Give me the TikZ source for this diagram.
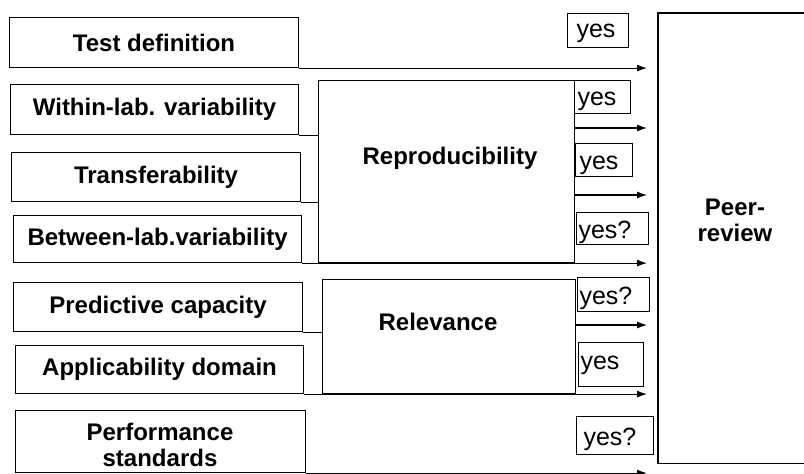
\documentclass[tikz,border=0pt]{standalone}
\usepackage{fontspec}
\setmainfont{Liberation Sans}
\usetikzlibrary{arrows.meta,calc}
\begin{document}
\begin{tikzpicture}[x=1pt,y=-1pt,
 line width=1.1pt,
 boxb/.style={draw, inner sep=0pt, anchor=north west, font=\bfseries\fontsize{24}{26}\selectfont, align=center},
 yesb/.style={draw, inner xsep=0pt, inner ysep=0pt, anchor=north west, font=\fontsize{25}{27}\selectfont, text depth=0pt},
 arr/.style={-{Latex[length=10pt,width=7pt]}},
 lbl/.style={font=\bfseries\fontsize{24}{26}\selectfont, align=center}
]
\useasboundingbox (0,0) rectangle (804,474);
\fill[white] (0,0) rectangle (804,474);

% left boxes
\node[boxb, minimum width=289pt, minimum height=50pt] (td) at (9,17) {Test definition};
\node[boxb, minimum width=288pt, minimum height=50pt] (wl) at (10,84) {Within-lab. variability};
\node[boxb, minimum width=289pt, minimum height=49pt] (tr) at (11,152) {Transferability};
\node[boxb, minimum width=288pt, minimum height=47pt] (bl) at (13,215) {Between-lab.variability};
\node[boxb, minimum width=289pt, minimum height=49pt] (pc) at (13,282) {Predictive capacity};
\node[boxb, minimum width=288pt, minimum height=48pt] (ad) at (15,345) {Applicability domain};
\node[boxb, minimum width=290pt, minimum height=62pt] (ps) at (15,410) {};
\node[lbl] (pst) at (160,445) {Performance\\standards};

% group boxes
\node[draw, inner sep=0pt, anchor=north west, minimum width=256pt, minimum height=182pt] (rep) at (318,80) {};
\node[lbl] (rept) at (450,158) {Reproducibility};
\node[draw, inner sep=0pt, anchor=north west, minimum width=253pt, minimum height=114pt] (rel) at (322,279) {};
\node[lbl] (relt) at (438,322) {Relevance};

% peer review (right side open)
\node[inner sep=0pt, anchor=north west, minimum width=146pt, minimum height=449pt] (pr) at (658,13) {};
\draw (pr.north east) -- (pr.north west) -- (pr.south west) -- (pr.south east);
\node[lbl] (prt) at (735,220) {Peer-\\review};

% yes boxes
\node[yesb, text height=14pt, minimum height=34pt] (y1) at (567,13) {\makebox[61pt][l]{\hspace{9pt}yes}};
\node[yesb, text height=16pt, minimum height=33pt] (y2) at (574,80) {\makebox[56pt][l]{\hspace{3pt}yes}};
\node[yesb, text height=18pt, minimum height=33pt] (y3) at (575,143) {\makebox[57pt][l]{\hspace{4pt}yes}};
\node[yesb, text height=19pt, minimum height=32pt] (y4) at (576,212) {\makebox[72pt][l]{\hspace{2pt}yes?}};
\node[yesb, text height=19pt, minimum height=34pt] (y5) at (577,277) {\makebox[72pt][l]{\hspace{2pt}yes?}};
\node[yesb, text height=10pt, minimum height=44pt] (y6) at (578,342) {\makebox[65pt][l]{\hspace{2pt}yes}};
\node[yesb, text height=19pt, minimum height=38pt] (y7) at (576,416) {\makebox[77pt][l]{\hspace{7pt}yes?}};

% arrow end x
\coordinate (ax) at (647,0);
\coordinate (r1) at (574,128);
\coordinate (r2) at (574,195);
\coordinate (l1) at (575,325);

% connectors
\draw[arr] (td.south east) -- (td.south east -| ax);
\draw (wl.south east) -- (wl.south east -| rep.west);
\draw (tr.south east) -- (tr.south east -| rep.west);
\draw (pc.south east) -- (pc.south east -| rel.west);
\draw[arr] (r1) -- (r1 -| ax);
\draw[arr] (r2) -- (r2 -| ax);
\draw[arr] (bl.south east) -- (bl.south east -| ax);
\draw[arr] (l1) -- (l1 -| ax);
\draw[arr] (ad.south east) -- (ad.south east -| ax);
\draw[arr] (ps.south east) -- (ps.south east -| ax);
\end{tikzpicture}
\end{document}
